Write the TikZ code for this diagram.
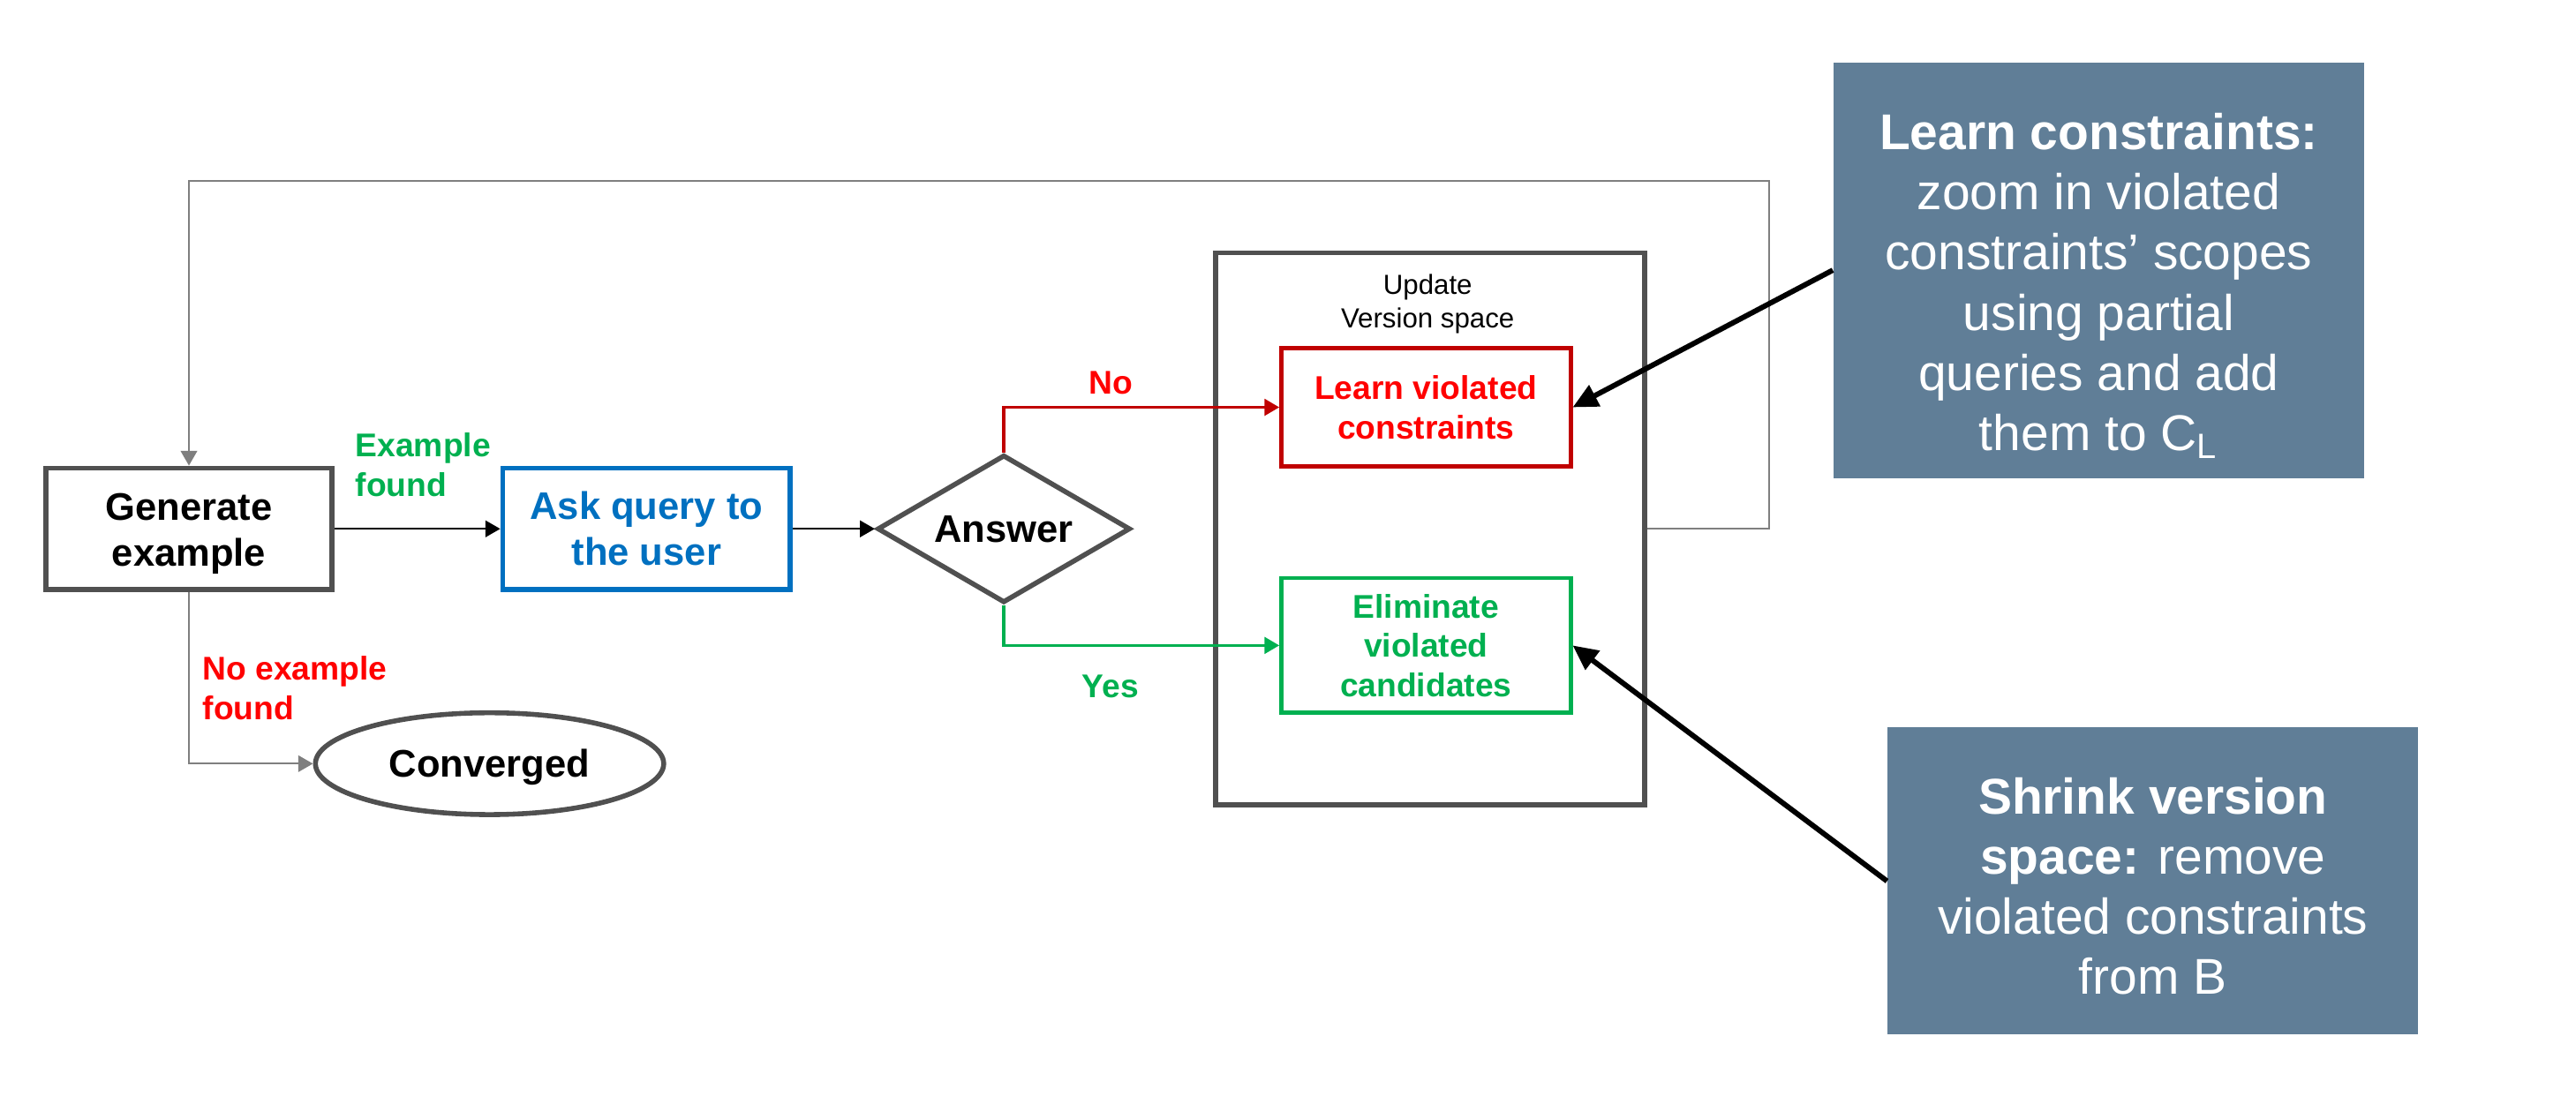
\documentclass[tikz,border=0pt]{standalone}
\usepackage{fontspec}
\setmainfont{Liberation Sans}
\usetikzlibrary{arrows.meta,shapes.geometric}
\definecolor{cgreen}{HTML}{00B050}
\definecolor{cred}{HTML}{FF0000}
\definecolor{cdred}{HTML}{C00000}
\definecolor{cblue}{HTML}{0070C0}
\definecolor{cbord}{HTML}{505050}
\definecolor{cgray}{HTML}{7F7F7F}
\definecolor{cslate}{HTML}{607E97}
\begin{document}
\begin{tikzpicture}[x=0.5pt,y=-0.5pt,
  fbox/.style={draw, line width=1.5pt, inner sep=0pt, align=center},
  big/.style={font=\fontsize{11.7}{14}\selectfont\bfseries},
  mid/.style={font=\fontsize{10}{12}\selectfont\bfseries},
  note/.style={fill=cslate, inner sep=0pt},
  notetext/.style={text=white, inner sep=0pt, align=center, font=\fontsize{15.3}{18.3}\selectfont},
  thin/.style={line width=0.6pt, -{Triangle[length=4.5pt,width=5pt]}},
  callout/.style={line width=1.6pt, -{Triangle[length=7.6pt,width=7pt]}},
  lbl/.style={font=\fontsize{10}{12}\selectfont\bfseries, inner sep=0pt, align=left},
  plain/.style={inner sep=0pt, align=center}
]
\useasboundingbox (0,0) rectangle (1568,681);

% main nodes
\node[fbox, draw=cbord, minimum width=87pt, minimum height=37pt] (gen) at (115,322) {};
\node[plain, big] (gentext) at (115,325) {Generate\\example};
\node[fbox, big, draw=cblue, text=cblue, minimum width=87.5pt, minimum height=37pt] (ask) at (393.5,322) {Ask query to\\the user};
\node[diamond, draw=cbord, line width=1.5pt, big, inner sep=0pt, aspect=1.71, minimum width=77pt, minimum height=45pt] (ans) at (611,322) {Answer};
\node[fbox, draw=cbord, minimum width=130.5pt, minimum height=168pt] (upd) at (870.5,322) {};
\node[plain, font=\fontsize{8.4}{10.2}\selectfont] (updt) at (869,185) {Update\\Version space};
\node[fbox, mid, draw=cdred, text=cred, line width=1.3pt, minimum width=88pt, minimum height=36pt] (learn) at (868,248) {Learn violated\\constraints};
\node[fbox, mid, draw=cgreen, text=cgreen, line width=1.3pt, minimum width=88pt, minimum height=41pt] (elim) at (868,393) {Eliminate\\violated\\candidates};
\node[ellipse, draw=cbord, line width=1.5pt, inner sep=0pt, minimum width=106pt, minimum height=31pt] (conv) at (298,465) {};
\node[plain, big] (convtext) at (298,467) {Converged};

% notes
\node[note, minimum width=161.5pt, minimum height=126.5pt] (lc) at (1277.5,164.5) {};
\node[notetext] (lctext) at (1277.5,174)
  {\textbf{Learn constraints:}\\zoom in violated\\constraints’ scopes\\using partial\\queries and add\\them to C\textsubscript{L}};
\node[note, minimum width=161.5pt, minimum height=93.5pt] (sv) at (1310.5,536.5) {};
\node[notetext] (svtext) at (1310.5,539.5)
  {\textbf{Shrink version}\\\textbf{space:} remove\\violated constraints\\from B};

% labels
\node[lbl, text=cgreen, anchor=west] (lex) at (216,283) {Example\\found};
\node[lbl, text=cred, anchor=west] (lnex) at (123,419) {No example\\found};
\node[lbl, text=cred] (lno) at (676,233) {No};
\node[lbl, text=cgreen] (lyes) at (676,418) {Yes};

% connectors
\coordinate (loopTR) at (1077,110);
\draw[thin, draw=black] (gen) -- (ask);
\draw[thin, draw=black] (ask) -- (ans);
\draw[thin, draw=cdred, line width=0.9pt] (ans.north) |- (learn.west);
\draw[thin, draw=cgreen, line width=0.9pt] (ans.south) |- (elim.west);
\draw[thin, draw=cgray] (upd.east) -| (loopTR) -| (gen.north);
\draw[thin, draw=cgray] (gen.south) |- (conv.west);
\draw[callout] (lc.west) -- (learn.east);
\draw[callout] (sv.west) -- (elim.east);
\end{tikzpicture}
\end{document}
